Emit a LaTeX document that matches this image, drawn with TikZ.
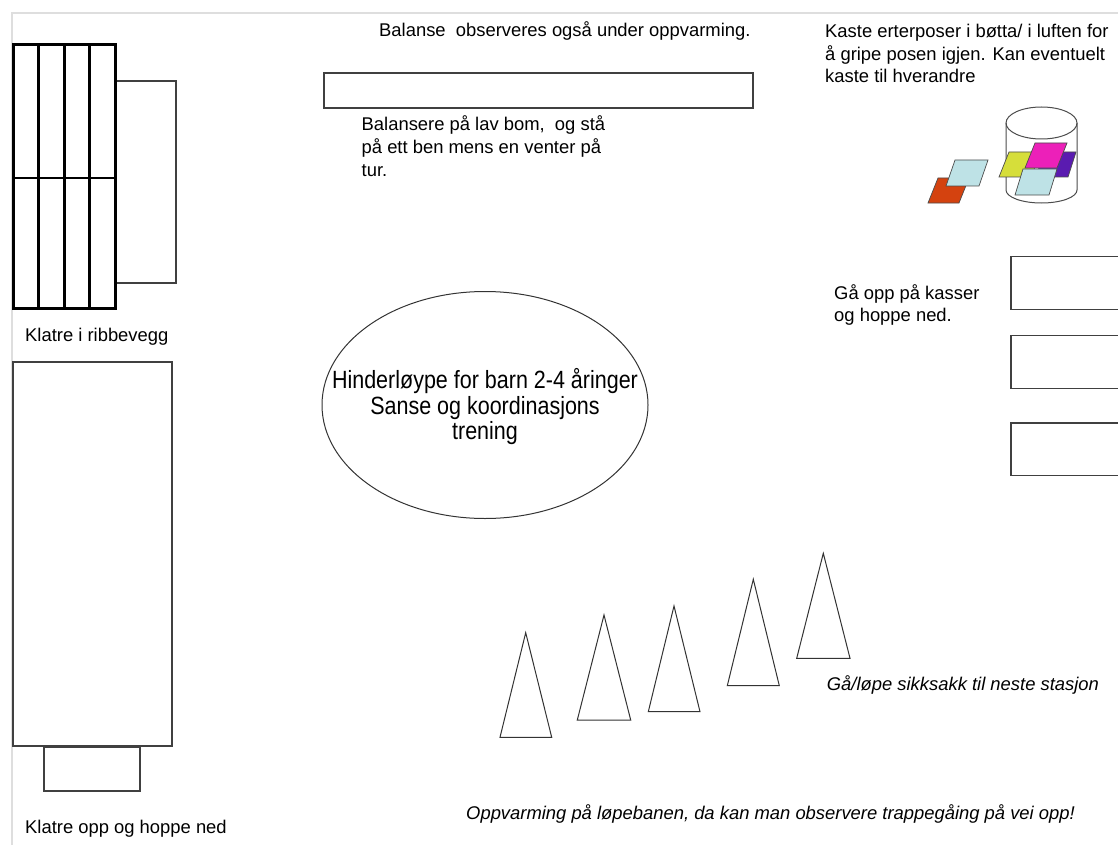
\documentclass[tikz,border=0pt]{standalone}
\usepackage{fontspec}
\setmainfont{Liberation Sans}
\usetikzlibrary{shapes.geometric}

\definecolor{bagred}{HTML}{D4420F}
\definecolor{bagblue}{HTML}{BEE2E6}
\definecolor{baglime}{HTML}{D6DE3A}
\definecolor{bagpink}{HTML}{EC20B9}
\definecolor{bagviolet}{HTML}{5A1BB0}

\begin{document}
\begin{tikzpicture}[x=1pt,y=-1pt,
    txt/.style={anchor=base west,align=left,inner sep=0pt,font=\fontsize{18.4}{22.3}\selectfont},
    slanted/.style={txt,font=\fontsize{18.4}{22}\selectfont\itshape},
    mat/.style={draw=black!75,line width=1.1pt},
    bar/.style={line width=3pt},
    cone/.style={draw=black!80,line width=1pt},
    bag/.style={draw=black!70,line width=0.7pt}]
  \useasboundingbox (0,0) rectangle (1118,845);
  \clip (0,0) rectangle (1118,845);
  \draw[black!13,line width=1.2pt] (1118,13) -- (12,13) -- (12,845);

  % ribbevegg with the mat behind it
  \draw[mat] (115,81) rectangle (176,283);
  \draw[bar] (13,45) rectangle (115,308);
  \foreach \x in {38.5,64,89.5} \draw[bar] (\x,45) -- (\x,308);
  \draw[line width=1.4pt] (13,178) -- (115,178);
  \node[txt] (wall) at (25,341) {Klatre i ribbevegg};

  % long mat and the step in front
  \draw[mat] (13,362) rectangle (172,746);
  \draw[mat] (44,747) rectangle (140,791);
  \node[txt] (jump) at (25,833.7) {Klatre opp og hoppe ned};

  % low beam
  \node[txt] (note) at (379,37) {Balanse\ \ observeres også under oppvarming.};
  \draw[mat] (324,73) rectangle (753,108);
  \node[txt,font=\fontsize{18.4}{22.5}\selectfont] (beam) at (361.5,176)
    {Balansere på lav bom,\ \ og stå\\på ett ben mens en venter på\\tur.};

  \node[ellipse,draw=black!80,line width=1pt,inner sep=0pt,minimum width=326,minimum height=227] (hub) at (485,405) {};
  \node[anchor=base,align=center,inner sep=0pt,font=\fontsize{21.5}{25.3}\selectfont] (title) at (485,439.5)
    {\scalebox{1}[1.16]{Hinderløype for barn 2-4 åringer}\\
     \scalebox{1}[1.16]{Sanse og koordinasjons}\\
     \scalebox{1}[1.16]{trening}};

  % bean bags and bucket
  \node[txt] (throw) at (825,82.6)
    {Kaste erterposer i bøtta/ i luften for\\å gripe posen igjen. Kan eventuelt\\kaste til hverandre};
  \draw[bag,fill=bagred] (928,203) -- ++(10,-25) -- ++(31,0) -- ++(-10,25) -- cycle;
  \draw[bag,fill=bagblue] (946,186) -- ++(9,-26) -- ++(33,0) -- ++(-9,26) -- cycle;
  \draw[bag,line width=1pt,fill=white] (1006,123) -- (1006,190)
    .. controls (1006,197.2) and (1021.9,203) .. (1041.5,203)
    .. controls (1061.1,203) and (1077,197.2) .. (1077,190) -- (1077,123);
  \draw[bag,line width=1pt] (1041.5,123) ellipse [x radius=35.5,y radius=16];
  \draw[bag,fill=baglime] (999,177) -- ++(10,-25) -- ++(32,0) -- ++(-10,25) -- cycle;
  \draw[bag,fill=bagviolet] (1036,177) -- ++(8,-25) -- ++(32,0) -- ++(-8,25) -- cycle;
  \draw[bag,fill=bagpink] (1025,168) -- ++(10,-25) -- ++(32,0) -- ++(-10,25) -- cycle;
  \draw[bag,fill=bagblue] (1015,195) -- ++(8,-26) -- ++(34,0) -- ++(-8,26) -- cycle;

  % boxes
  \node[txt,font=\fontsize{18.4}{22}\selectfont] (boxes) at (834,321.3) {Gå opp på kasser\\og hoppe ned.};
  \foreach \y in {256.7,335.7,423} \draw[mat] (1011,\y) rectangle ++(120,52.5);

  % cones
  \foreach \ax/\ay/\bl/\br/\by in {525.7/632.7/500/551.7/737.3, 604/615/577.3/630.7/720,
      674/606/648.3/700/711.7, 753.3/579.3/727.3/779.3/685.7, 823.3/553.3/796.7/850/658.3}
    \draw[cone] (\bl,\by) -- (\ax,\ay) -- (\br,\by) -- cycle;
  \node[slanted] (zigzag) at (826.7,690) {Gå/løpe sikksakk til neste stasjon};

  \node[slanted] (warmup) at (466,819.3)
    {Oppvarming på løpebanen, da kan man observere trappegåing på vei opp!};
\end{tikzpicture}
\end{document}
